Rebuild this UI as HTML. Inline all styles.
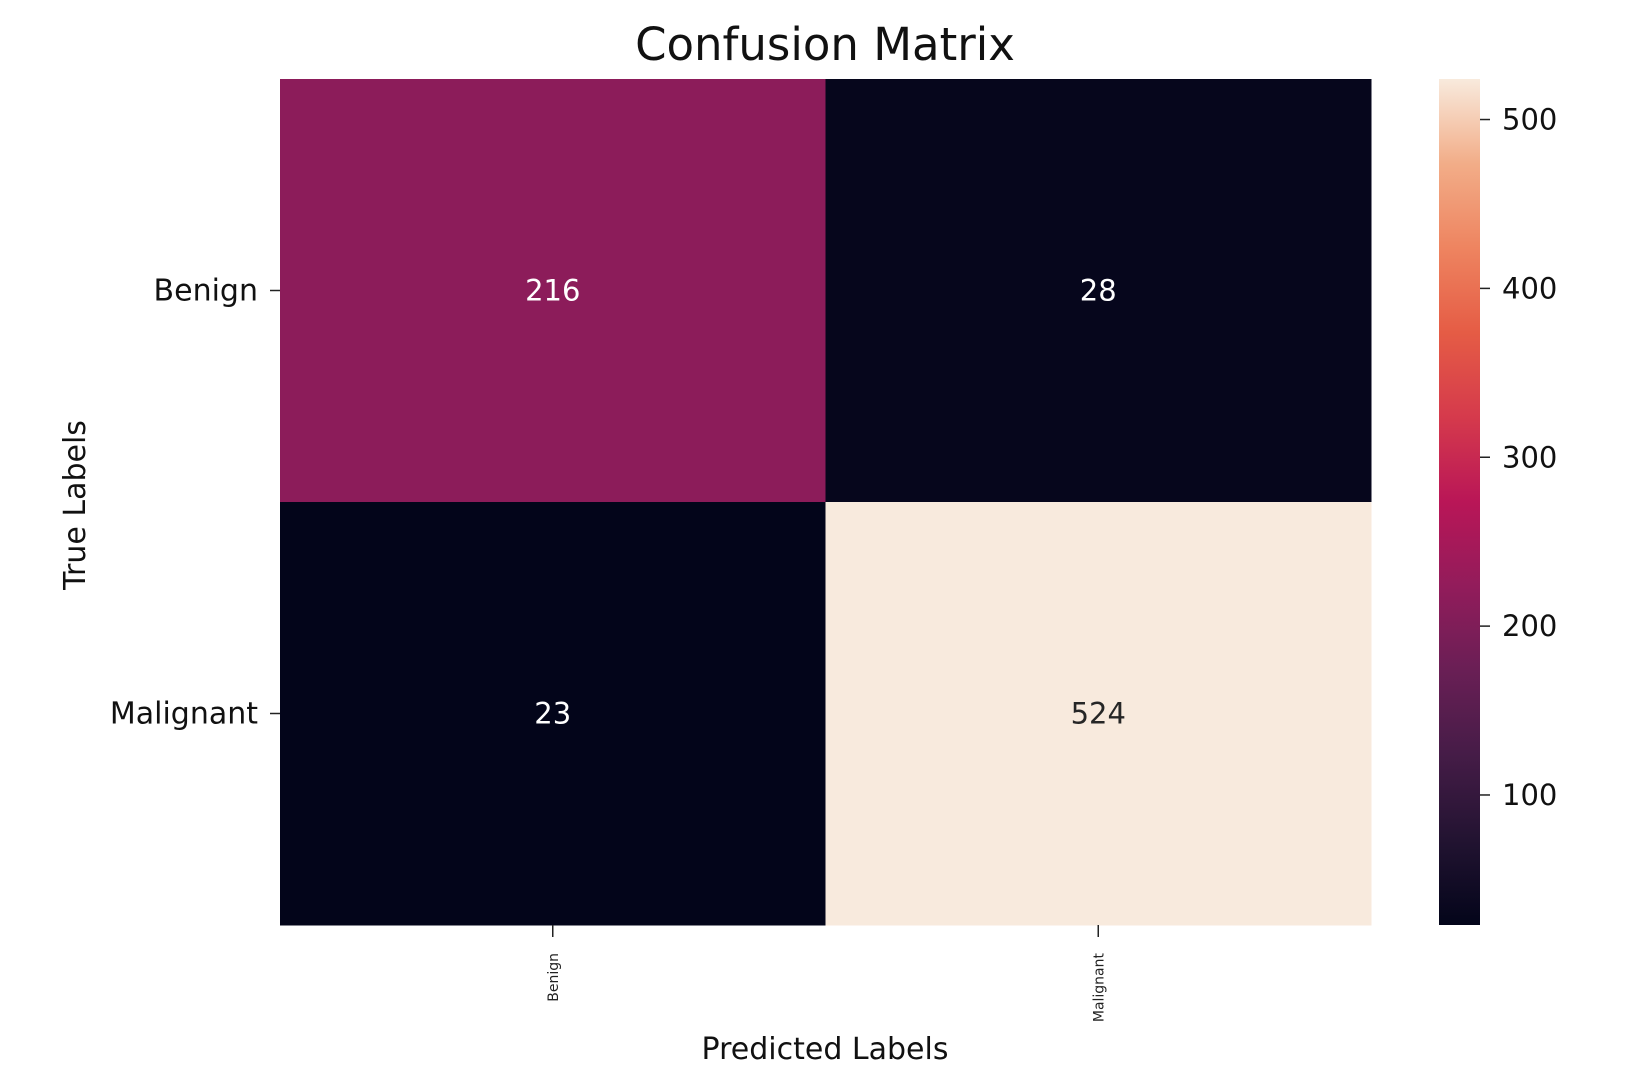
<!DOCTYPE html>
<html><head><meta charset="utf-8"><style>
html,body{margin:0;padding:0;background:#fff;}
svg{display:block;font-family:"DejaVu Sans","Liberation Sans",sans-serif;}
</style></head><body>
<svg id="chart" width="1648" height="1084" viewBox="0 0 1648 1084">
<defs>
<linearGradient id="rocket" x1="0" y1="1" x2="0" y2="0">
<stop offset="0" stop-color="#03051a"/><stop offset="0.1" stop-color="#221331"/><stop offset="0.2" stop-color="#451c47"/><stop offset="0.3" stop-color="#691f55"/><stop offset="0.4" stop-color="#921c5b"/><stop offset="0.5" stop-color="#b91657"/><stop offset="0.6" stop-color="#d53a4c"/><stop offset="0.7" stop-color="#e55c45"/><stop offset="0.8" stop-color="#ee8460"/><stop offset="0.9" stop-color="#f2ad88"/><stop offset="1" stop-color="#f8eadd"/>
</linearGradient>
</defs>
<text x="825" y="60" font-size="45" text-anchor="middle" fill="#111">Confusion Matrix</text>
<g id="cells"></g>
<rect x="1439" y="79" width="41" height="846" fill="url(#rocket)"/>
<g id="cbticks"></g>
<g id="axes"></g>
<text x="825" y="1059" font-size="30" text-anchor="middle" fill="#111">Predicted Labels</text>
<text transform="translate(85,505) rotate(-90)" font-size="30" text-anchor="middle" fill="#111">True Labels</text>
</svg>
<script>
const categories = ["Benign", "Malignant"];
const values = [[216, 28], [23, 524]];
const cbTicks = [100, 200, 300, 400, 500];

const NS = "http://www.w3.org/2000/svg";
const X0 = 280, X1 = 1371, Y0 = 79, Y1 = 925;
const flat = values.flat();
const vmin = Math.min(...flat), vmax = Math.max(...flat);
const n = categories.length;
const cw = (X1 - X0) / n, ch = (Y1 - Y0) / n;
const xPos = i => X0 + i * cw;
const yPos = j => Y0 + j * ch;
const cbY = v => Y1 - (v - vmin) / (vmax - vmin) * (Y1 - Y0);
const stops = ["#03051a","#221331","#451c47","#691f55","#921c5b","#b91657","#d53a4c","#e55c45","#ee8460","#f2ad88","#f8eadd"];
function hex(c){return [1,3,5].map(k=>parseInt(c.substr(k,2),16));}
function color(v){
  let t = (v - vmin) / (vmax - vmin); t = Math.max(0, Math.min(1, t));
  const p = t * (stops.length - 1), i = Math.min(Math.floor(p), stops.length - 2), f = p - i;
  const a = hex(stops[i]), b = hex(stops[i+1]);
  return "rgb(" + a.map((x,k)=>Math.round(x + (b[k]-x)*f)).join(",") + ")";
}
function mk(tag, attrs, parent){
  const e = document.createElementNS(NS, tag);
  for (const k in attrs) e.setAttribute(k, attrs[k]);
  parent.appendChild(e); return e;
}
const cells = document.getElementById("cells");
const axes = document.getElementById("axes");
const cbt = document.getElementById("cbticks");
for (let r = 0; r < n; r++) for (let c = 0; c < n; c++) {
  const v = values[r][c];
  const rect = mk("rect", {x: xPos(c), y: yPos(r), width: cw + 0.5, height: ch + 0.5, fill: color(v)}, cells);
  
  
  const t = mk("text", {x: xPos(c) + cw/2, y: yPos(r) + ch/2 + 10, "font-size": 29, "text-anchor": "middle",
    fill: ((v - vmin)/(vmax - vmin)) > 0.6 ? "#262626" : "#ffffff"}, cells);
  t.textContent = v;
  
  
}
categories.forEach((cat, i) => {
  const yc = yPos(i) + ch/2;
  const tk = mk("line", {x1: X0 - 10, x2: X0, y1: yc, y2: yc, stroke: "#222", "stroke-width": 1.5}, axes);
  
  
  const lb = mk("text", {x: X0 - 22, y: yc + 10, "font-size": 30, "text-anchor": "end", fill: "#111"}, axes);
  lb.textContent = cat;
  
  
  const xc = xPos(i) + cw/2;
  const tx = mk("line", {x1: xc, x2: xc, y1: Y1, y2: Y1 + 12, stroke: "#222", "stroke-width": 1.5}, axes);
  
  
  const xl = mk("text", {transform: "translate(" + (xc + 5) + "," + (Y1 + 28) + ") rotate(-90)", "font-size": 14, "text-anchor": "end", fill: "#222"}, axes);
  xl.textContent = cat;
  
  
});
cbTicks.forEach(v => {
  const y = cbY(v);
  const l = mk("line", {x1: 1480, x2: 1490, y1: y, y2: y, stroke: "#222", "stroke-width": 1.5}, cbt);
  
  
  const t = mk("text", {x: 1502, y: y + 10, "font-size": 29, fill: "#111"}, cbt);
  t.textContent = v;
  
  
});
</script>
</body></html>
